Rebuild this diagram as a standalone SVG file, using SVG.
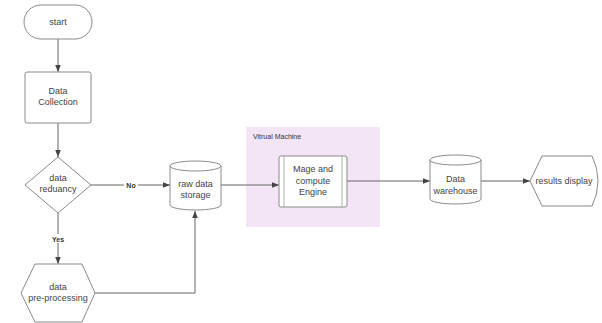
<svg xmlns="http://www.w3.org/2000/svg" width="602" height="323" viewBox="0 0 602 323">
<defs>
<marker id="ah" viewBox="0 0 10 10" refX="10" refY="5" markerWidth="7" markerHeight="7" markerUnits="userSpaceOnUse" orient="auto">
<path d="M0,1 L10,5 L0,9 Z" fill="#444"/>
</marker>
<style>
.s{fill:#fff;stroke:#8a8a8a;stroke-width:1}
.t{font-family:"Liberation Sans",Arial,sans-serif;font-size:9px;fill:#444;text-anchor:middle}
.l{font-family:"Liberation Sans",Arial,sans-serif;font-size:7px;font-weight:bold;fill:#333;text-anchor:middle}
.c{fill:none;stroke:#666;stroke-width:1}
</style>
</defs>
<rect width="602" height="323" fill="#fff"/>
<g id="vm">
<rect x="246" y="127" width="134" height="100" fill="#f3e5f5"/>
<text x="253" y="139" style="font-family:'Liberation Sans',Arial,sans-serif;font-size:7px;fill:#333">Vitrual Machine</text>
</g>
<g id="connectors">
<path class="c" d="M58,39 V72" marker-end="url(#ah)"/>
<path class="c" d="M58,123 V157" marker-end="url(#ah)"/>
<path class="c" d="M91,185 H170" marker-end="url(#ah)"/>
<rect x="124" y="180" width="14" height="9" fill="#fff"/>
<text class="l" x="131" y="187.5">No</text>
<path class="c" d="M58,213 V264" marker-end="url(#ah)"/>
<rect x="50" y="234" width="16" height="9" fill="#fff"/>
<text class="l" x="58" y="241.5">Yes</text>
<path class="c" d="M95,293 H195 V211" marker-end="url(#ah)"/>
<path class="c" d="M221,185 H279" marker-end="url(#ah)"/>
<path class="c" d="M347,181 H430" marker-end="url(#ah)"/>
<path class="c" d="M481,181 H530" marker-end="url(#ah)"/>
</g>
<g id="start">
<rect class="s" x="24" y="5" width="68" height="34" rx="17"/>
<text class="t" x="58" y="25">start</text>
</g>
<g id="collection">
<rect class="s" x="25" y="72" width="66" height="51" rx="2"/>
<text class="t" x="58" y="94">Data</text>
<text class="t" x="58" y="105">Collection</text>
</g>
<g id="redundancy">
<path class="s" d="M58,157 L91,185 L58,213 L25,185 Z"/>
<text class="t" x="58" y="181">data</text>
<text class="t" x="58" y="192">reduancy</text>
</g>
<g id="preprocessing">
<path class="s" d="M35,264 H82 L95,293 L82,322 H35 L21,293 Z"/>
<text class="t" x="58" y="290">data</text>
<text class="t" x="58" y="301">pre-processing</text>
</g>
<g id="raw">
<path class="s" d="M170,166 A25.5,5 0 0 1 221,166 V205 A25.5,5 0 0 1 170,205 Z"/>
<path class="c" style="stroke:#8a8a8a" d="M170,166 A25.5,5 0 0 0 221,166"/>
<text class="t" x="195.5" y="187">raw data</text>
<text class="t" x="195.5" y="198">storage</text>
</g>
<g id="engine">
<rect class="s" x="279" y="156" width="68" height="51" rx="2"/>
<path class="c" style="stroke:#aaa" d="M284,156 V207 M342,156 V207"/>
<text class="t" x="313" y="172">Mage and</text>
<text class="t" x="313" y="183.5">compute</text>
<text class="t" x="313" y="195">Engine</text>
</g>
<g id="warehouse">
<path class="s" d="M430,160 A25.5,5 0 0 1 481,160 V199 A25.5,5 0 0 1 430,199 Z"/>
<path class="c" style="stroke:#8a8a8a" d="M430,160 A25.5,5 0 0 0 481,160"/>
<text class="t" x="455.5" y="182">Data</text>
<text class="t" x="455.5" y="193.5">warehouse</text>
</g>
<g id="results">
<path class="s" d="M542,156 H592 Q598,168 598,181 Q598,194 592,206 H542 L530,181 Z"/>
<text class="t" x="564" y="184">results display</text>
</g>
</svg>
